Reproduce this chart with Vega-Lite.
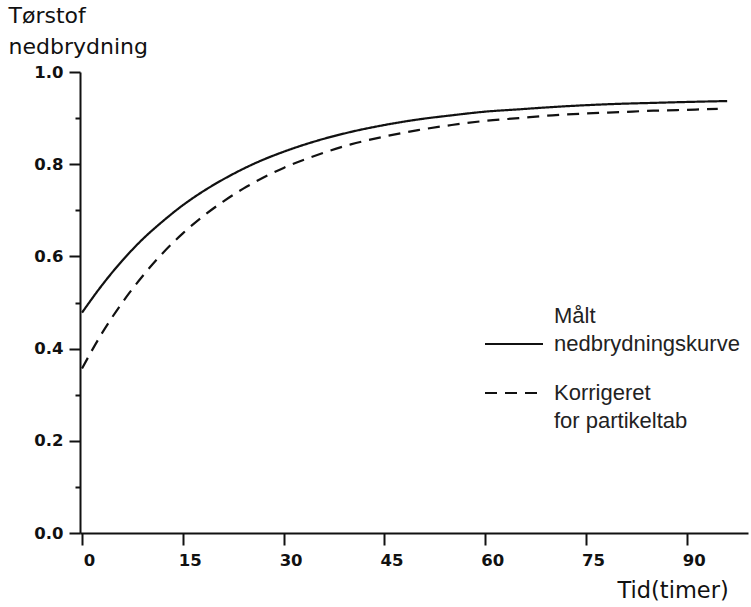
{
  "$schema": "https://vega.github.io/schema/vega-lite/v6.json",
  "width": 668,
  "height": 461,
  "autosize": {"type": "none"},
  "padding": {"left": 80, "top": 72, "right": 3, "bottom": 74},
  "background": "white",
  "config": {"view": {"stroke": null}},
  "data": {
    "values": [
      {"t": 0, "v": 0.478, "serie": "Målt nedbrydningskurve"},
      {"t": 3, "v": 0.538, "serie": "Målt nedbrydningskurve"},
      {"t": 6, "v": 0.591, "serie": "Målt nedbrydningskurve"},
      {"t": 9, "v": 0.637, "serie": "Målt nedbrydningskurve"},
      {"t": 12, "v": 0.676, "serie": "Målt nedbrydningskurve"},
      {"t": 15, "v": 0.711, "serie": "Målt nedbrydningskurve"},
      {"t": 18, "v": 0.741, "serie": "Målt nedbrydningskurve"},
      {"t": 21, "v": 0.767, "serie": "Målt nedbrydningskurve"},
      {"t": 24, "v": 0.790, "serie": "Målt nedbrydningskurve"},
      {"t": 27, "v": 0.810, "serie": "Målt nedbrydningskurve"},
      {"t": 30, "v": 0.827, "serie": "Målt nedbrydningskurve"},
      {"t": 35, "v": 0.851, "serie": "Målt nedbrydningskurve"},
      {"t": 40, "v": 0.870, "serie": "Målt nedbrydningskurve"},
      {"t": 45, "v": 0.885, "serie": "Målt nedbrydningskurve"},
      {"t": 50, "v": 0.897, "serie": "Målt nedbrydningskurve"},
      {"t": 55, "v": 0.906, "serie": "Målt nedbrydningskurve"},
      {"t": 60, "v": 0.914, "serie": "Målt nedbrydningskurve"},
      {"t": 65, "v": 0.919, "serie": "Målt nedbrydningskurve"},
      {"t": 70, "v": 0.924, "serie": "Målt nedbrydningskurve"},
      {"t": 75, "v": 0.928, "serie": "Målt nedbrydningskurve"},
      {"t": 80, "v": 0.931, "serie": "Målt nedbrydningskurve"},
      {"t": 85, "v": 0.933, "serie": "Målt nedbrydningskurve"},
      {"t": 90, "v": 0.935, "serie": "Målt nedbrydningskurve"},
      {"t": 96, "v": 0.937, "serie": "Målt nedbrydningskurve"},
      {"t": 0, "v": 0.357, "serie": "Korrigeret for partikeltab"},
      {"t": 3, "v": 0.434, "serie": "Korrigeret for partikeltab"},
      {"t": 6, "v": 0.500, "serie": "Korrigeret for partikeltab"},
      {"t": 9, "v": 0.557, "serie": "Korrigeret for partikeltab"},
      {"t": 12, "v": 0.607, "serie": "Korrigeret for partikeltab"},
      {"t": 15, "v": 0.650, "serie": "Korrigeret for partikeltab"},
      {"t": 18, "v": 0.687, "serie": "Korrigeret for partikeltab"},
      {"t": 21, "v": 0.719, "serie": "Korrigeret for partikeltab"},
      {"t": 24, "v": 0.747, "serie": "Korrigeret for partikeltab"},
      {"t": 27, "v": 0.771, "serie": "Korrigeret for partikeltab"},
      {"t": 30, "v": 0.792, "serie": "Korrigeret for partikeltab"},
      {"t": 35, "v": 0.820, "serie": "Korrigeret for partikeltab"},
      {"t": 40, "v": 0.843, "serie": "Korrigeret for partikeltab"},
      {"t": 45, "v": 0.860, "serie": "Korrigeret for partikeltab"},
      {"t": 50, "v": 0.874, "serie": "Korrigeret for partikeltab"},
      {"t": 55, "v": 0.885, "serie": "Korrigeret for partikeltab"},
      {"t": 60, "v": 0.894, "serie": "Korrigeret for partikeltab"},
      {"t": 65, "v": 0.900, "serie": "Korrigeret for partikeltab"},
      {"t": 70, "v": 0.906, "serie": "Korrigeret for partikeltab"},
      {"t": 75, "v": 0.910, "serie": "Korrigeret for partikeltab"},
      {"t": 80, "v": 0.913, "serie": "Korrigeret for partikeltab"},
      {"t": 85, "v": 0.916, "serie": "Korrigeret for partikeltab"},
      {"t": 90, "v": 0.918, "serie": "Korrigeret for partikeltab"},
      {"t": 94.6, "v": 0.920, "serie": "Korrigeret for partikeltab"}
    ]
  },
  "mark": {"type": "line", "interpolate": "monotone", "strokeWidth": 2.2, "color": "#111"},
  "encoding": {
    "x": {
      "field": "t",
      "type": "quantitative",
      "scale": {"domain": [-0.3, 99.1], "nice": false, "zero": false},
      "axis": {
        "values": [0, 15, 30, 45, 60, 75, 90],
        "format": "d",
        "grid": false,
        "domainColor": "#111",
        "domainWidth": 2,
        "tickColor": "#111",
        "tickWidth": 2,
        "tickSize": 12,
        "labelPadding": 7,
        "labelOffset": 7,
        "labelFont": "DejaVu Sans",
        "labelFontSize": 16.5,
        "labelFontWeight": "bold",
        "labelColor": "#111",
        "title": "Tid(timer)",
        "titleFont": "DejaVu Sans",
        "titleFontSize": 22.5,
        "titleFontWeight": "normal",
        "titleColor": "#111",
        "titleAlign": "left",
        "titleBaseline": "alphabetic",
        "titleX": 537,
        "titleY": 64
      }
    },
    "y": {
      "field": "v",
      "type": "quantitative",
      "scale": {"domain": [0, 1], "nice": false},
      "axis": {
        "values": [0, 0.1, 0.2, 0.3, 0.4, 0.5, 0.6, 0.7, 0.8, 0.9, 1.0],
        "labelExpr": "round(datum.value*10) % 2 == 0 ? format(datum.value, '.1f') : ''",
        "tickSize": {"condition": {"test": "round(datum.value*10) % 2 == 0", "value": 11}, "value": 5},
        "grid": false,
        "domainColor": "#111",
        "domainWidth": 2,
        "tickColor": "#111",
        "tickWidth": 2,
        "labelPadding": 6,
        "labelFont": "DejaVu Sans",
        "labelFontSize": 16.5,
        "labelFontWeight": "bold",
        "labelColor": "#111",
        "title": ["Tørstof", "nedbrydning"],
        "titleFont": "DejaVu Sans",
        "titleFontSize": 22,
        "titleFontWeight": "normal",
        "titleColor": "#111",
        "titleAngle": 0,
        "titleAlign": "left",
        "titleBaseline": "top",
        "titleLineHeight": 31,
        "titleX": -72,
        "titleY": -67
      }
    },
    "strokeDash": {
      "field": "serie",
      "type": "nominal",
      "scale": {
        "domain": ["Målt nedbrydningskurve", "Korrigeret for partikeltab"],
        "range": [[1, 0], [12, 8]]
      },
      "legend": {
        "orient": "none",
        "legendX": 404,
        "legendY": 242,
        "title": null,
        "padding": 0,
        "symbolType": "stroke",
        "symbolSize": 3364,
        "symbolStrokeWidth": 2,
        "symbolStrokeColor": "#111",
        "labelFont": "Liberation Sans",
        "labelFontSize": 22,
        "labelColor": "#222",
        "labelOffset": 10,
        "labelLimit": 0,
        "labelBaseline": "alphabetic",
        "labelExpr": "datum.label == 'Målt nedbrydningskurve' ? ['Målt', 'nedbrydningskurve'] : ['Korrigeret', 'for partikeltab']",
        "rowPadding": 8,
        "encode": {
          "labels": {
            "update": {
              "lineHeight": {"value": 28},
              "dy": {"signal": "datum.value == 'Målt nedbrydningskurve' ? -21 : 7"}
            }
          }
        }
      }
    }
  }
}
